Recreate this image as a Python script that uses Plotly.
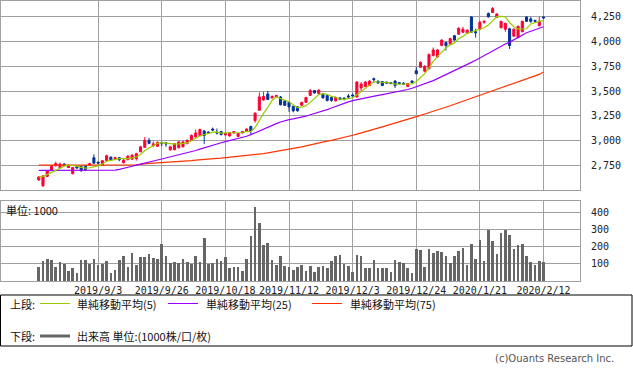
import plotly.graph_objects as go
import pandas as pd

# ---------------- data ----------------
opens = [2600, 2540, 2635, 2695, 2745, 2725, 2760, 2725, 2665, 2735,
         2735, 2740, 2750, 2825, 2780, 2750, 2795, 2830, 2810, 2825,
         2775, 2805, 2810, 2815, 2885, 2930, 3000, 2945, 2940, 2980,
         2975, 2905, 2905, 2925, 2935, 2970, 3000, 3035, 3050, 3095,
         3085, 3115, 3085, 3090, 3055, 3045, 3075, 3040, 3075, 3090,
         3140, 3200, 3305, 3410, 3470, 3430, 3440, 3440, 3400, 3385,
         3345, 3340, 3355, 3385, 3455, 3505, 3475, 3470, 3455, 3435,
         3400, 3430, 3428, 3450, 3460, 3440, 3530, 3545, 3555, 3625,
         3600, 3595, 3590, 3585, 3600, 3585, 3580, 3545, 3600, 3705,
         3740, 3700, 3725, 3860, 3845, 3960, 3990, 3975, 4060, 4075,
         4095, 4085, 4250, 4100, 4125, 4195, 4285, 4295, 4245, 4140,
         4125, 4130, 4055, 4040, 4100, 4250, 4230, 4215, 4160, 4250]
highs = [2640, 2650, 2700, 2750, 2785, 2775, 2770, 2760, 2730, 2745,
         2740, 2750, 2775, 2860, 2785, 2800, 2855, 2840, 2835, 2830,
         2810, 2850, 2860, 2875, 2945, 3035, 3025, 2990, 2990, 2985,
         2980, 2945, 2970, 2990, 2995, 3010, 3060, 3110, 3120, 3105,
         3090, 3130, 3120, 3095, 3080, 3085, 3095, 3075, 3095, 3120,
         3150, 3285, 3485, 3490, 3500, 3455, 3460, 3450, 3410, 3395,
         3350, 3345, 3390, 3440, 3520, 3510, 3515, 3480, 3460, 3440,
         3445, 3440, 3435, 3470, 3475, 3600, 3590, 3600, 3610, 3635,
         3605, 3600, 3595, 3590, 3610, 3590, 3590, 3580, 3610, 3740,
         3800, 3760, 3880, 3940, 3925, 4025, 4000, 4040, 4065, 4145,
         4150, 4125, 4255, 4130, 4210, 4215, 4295, 4350, 4285, 4210,
         4190, 4140, 4135, 4160, 4210, 4255, 4250, 4220, 4250, 4255]
lows = [2590, 2530, 2630, 2690, 2735, 2720, 2740, 2720, 2655, 2715,
        2680, 2690, 2745, 2765, 2760, 2745, 2790, 2800, 2805, 2790,
        2765, 2800, 2805, 2795, 2880, 2925, 2965, 2935, 2935, 2940,
        2935, 2895, 2900, 2920, 2930, 2960, 2995, 3030, 3045, 2965,
        3065, 3095, 3060, 3050, 3050, 3040, 3070, 3035, 3070, 3085,
        3055, 3180, 3300, 3400, 3410, 3425, 3435, 3355, 3350, 3290,
        3285, 3290, 3350, 3380, 3450, 3475, 3470, 3425, 3395, 3390,
        3395, 3405, 3405, 3420, 3445, 3435, 3490, 3540, 3550, 3585,
        3575, 3550, 3570, 3570, 3530, 3565, 3560, 3540, 3580, 3670,
        3735, 3690, 3720, 3850, 3835, 3955, 3910, 3970, 4010, 4070,
        4090, 4080, 4090, 4040, 4120, 4180, 4245, 4290, 4240, 4135,
        4100, 3925, 4050, 4035, 4095, 4200, 4190, 4195, 4155, 4230]
closes = [2630, 2640, 2690, 2740, 2765, 2760, 2745, 2745, 2725, 2720,
          2700, 2705, 2765, 2770, 2770, 2795, 2845, 2805, 2825, 2805,
          2800, 2840, 2850, 2865, 2935, 3000, 2970, 2965, 2980, 2970,
          2965, 2935, 2965, 2985, 2985, 3000, 3050, 3075, 3110, 3050,
          3075, 3105, 3075, 3060, 3070, 3080, 3090, 3070, 3090, 3115,
          3095, 3275, 3440, 3445, 3415, 3445, 3455, 3360, 3355, 3340,
          3300, 3300, 3385, 3435, 3505, 3480, 3510, 3430, 3405, 3405,
          3435, 3415, 3420, 3440, 3450, 3590, 3570, 3590, 3600, 3615,
          3580, 3555, 3580, 3575, 3555, 3575, 3570, 3575, 3585, 3675,
          3790, 3750, 3870, 3915, 3915, 4015, 3960, 4030, 4015, 4135,
          4125, 4115, 4095, 4090, 4195, 4205, 4250, 4335, 4280, 4205,
          4185, 3960, 4125, 4155, 4205, 4205, 4205, 4205, 4205, 4240]

ma25 = [2697, 2697, 2697, 2697, 2697, 2697, 2697, 2697, 2697, 2697,
        2697, 2697, 2697, 2697, 2697, 2697, 2697, 2697, 2700, 2707,
        2715, 2725, 2738, 2750, 2762, 2772, 2782, 2792, 2802, 2812,
        2822, 2832, 2842, 2852, 2862, 2873, 2885, 2898, 2912, 2926,
        2940, 2952, 2964, 2976, 2988, 2998, 3008, 3018, 3030, 3042,
        3058, 3078, 3098, 3117, 3135, 3152, 3170, 3186, 3200, 3210,
        3218, 3225, 3232, 3245, 3260, 3272, 3285, 3298, 3312, 3328,
        3345, 3360, 3375, 3390, 3402, 3412, 3422, 3432, 3440, 3448,
        3456, 3464, 3472, 3480, 3488, 3496, 3505, 3515, 3528, 3542,
        3556, 3570, 3585, 3605, 3625, 3645, 3668, 3686, 3704, 3722,
        3745, 3768, 3790, 3812, 3835, 3860, 3885, 3910, 3935, 3955,
        3975, 3995, 4020, 4045, 4068, 4090, 4105, 4120, 4135, 4150]

ma75 = [2750, 2750, 2750, 2750, 2750, 2750, 2750, 2750, 2750, 2750,
        2750, 2750, 2750, 2750, 2750, 2750, 2750, 2750, 2750, 2750,
        2750, 2750, 2750, 2753, 2758, 2765, 2768, 2770, 2772, 2774,
        2776, 2778, 2780, 2782, 2786, 2790, 2795, 2800, 2805, 2809,
        2812, 2815, 2818, 2820, 2824, 2828, 2832, 2836, 2840, 2845,
        2850, 2855, 2861, 2867, 2873, 2880, 2887, 2894, 2902, 2910,
        2918, 2926, 2935, 2944, 2955, 2965, 2975, 2983, 2992, 3001,
        3010, 3019, 3030, 3040, 3052, 3064, 3075, 3087, 3099, 3112,
        3125, 3137, 3150, 3162, 3175, 3188, 3200, 3213, 3226, 3240,
        3253, 3267, 3280, 3294, 3308, 3322, 3336, 3351, 3366, 3381,
        3397, 3413, 3428, 3444, 3460, 3475, 3490, 3505, 3520, 3535,
        3550, 3565, 3580, 3595, 3610, 3625, 3640, 3655, 3668, 3692]

volume = [84, 114, 131, 125, 80, 108, 100, 61, 73, 49,
          125, 120, 100, 131, 94, 98, 114, 49, 67, 120,
          143, 84, 161, 92, 137, 137, 155, 133, 131, 214,
          143, 102, 108, 102, 131, 108, 98, 143, 108, 249,
          98, 102, 131, 114, 137, 73, 84, 84, 61, 131,
          261, 431, 337, 208, 220, 120, 92, 143, 90, 84,
          67, 84, 96, 61, 90, 55, 80, 90, 75, 114,
          143, 149, 98, 90, 55, 149, 143, 73, 78, 125,
          73, 73, 78, 55, 120, 108, 102, 73, 49, 184,
          178, 84, 184, 161, 173, 167, 143, 102, 143, 173,
          190, 96, 214, 131, 237, 114, 298, 231, 155, 278,
          298, 267, 184, 208, 214, 143, 108, 96, 114, 108]

tick_idx = [14, 29, 44, 59, 74, 89, 104, 119]
tick_labels = ["2019/9/3", "2019/9/26", "2019/10/18", "2019/11/12",
               "2019/12/3", "2019/12/24", "2020/1/21", "2020/2/12"]
price_ticks = [2750, 3000, 3250, 3500, 3750, 4000, 4250]
vol_ticks = [100, 200, 300, 400]

x = list(range(len(closes)))
ma5 = pd.Series(closes).rolling(5, min_periods=1).mean().tolist()

# ---------------- layout helpers ----------------
W, H = 633, 373
ML, MR, MT, MB = 1, 53, 1, 92
PW, PH = W - ML - MR, H - MT - MB


def px(v):
    return (v - ML) / PW


def py(v):
    return (H - MB - v) / PH


GRID = "#a0a0a0"
RED = "#ff0033"
BLUE = "#003399"
C5, C25, C75 = "#99cc00", "#9900ff", "#ff3300"
VOLC = "#666666"
JP = "Noto Sans CJK JP"
NUM = "DejaVu Sans Mono"

fig = go.Figure()
fig.add_trace(go.Candlestick(
    x=x, open=opens, high=highs, low=lows, close=closes,
    increasing=dict(line=dict(color=RED, width=1), fillcolor=RED),
    decreasing=dict(line=dict(color=BLUE, width=1), fillcolor=BLUE),
    whiskerwidth=0, xaxis="x", yaxis="y", showlegend=False, hoverinfo="skip"))
fig.add_trace(go.Scatter(x=x, y=ma75, mode="lines", line=dict(color=C75, width=1.2),
                         xaxis="x", yaxis="y", showlegend=False, hoverinfo="skip"))
fig.add_trace(go.Scatter(x=x, y=ma25, mode="lines", line=dict(color=C25, width=1.2),
                         xaxis="x", yaxis="y", showlegend=False, hoverinfo="skip"))
fig.add_trace(go.Scatter(x=x, y=ma5, mode="lines", line=dict(color=C5, width=1.2),
                         xaxis="x", yaxis="y", showlegend=False, hoverinfo="skip"))
fig.add_trace(go.Bar(x=x, y=volume, marker=dict(color=VOLC, line=dict(width=0)),
                     width=0.62, xaxis="x2", yaxis="y2", showlegend=False, hoverinfo="skip"))

xr = [-8.9, 127.6]
axis_common = dict(showline=True, mirror=True, linecolor=GRID, linewidth=1,
                   showgrid=True, gridcolor=GRID, gridwidth=1, zeroline=False,
                   fixedrange=True)

fig.update_layout(
    width=W, height=H, margin=dict(l=ML, r=MR, t=MT, b=MB),
    paper_bgcolor="white", plot_bgcolor="white",
    hovermode=False, bargap=0, showlegend=False,
    xaxis=dict(domain=[0, 1], range=xr, anchor="y", tickvals=tick_idx,
               showticklabels=False, ticks="", rangeslider=dict(visible=False),
               **axis_common),
    yaxis=dict(domain=[py(190), 1], range=[2498, 4411], side="right", anchor="x",
               tickvals=price_ticks, ticktext=[f"{v:,}" for v in price_ticks],
               ticks="outside", ticklen=8, tickcolor="rgba(0,0,0,0)",
               tickfont=dict(family=NUM, size=10, color="#222"), **axis_common),
    xaxis2=dict(domain=[0, 1], range=xr, anchor="y2", tickvals=tick_idx,
                ticktext=tick_labels, ticks="", matches="x",
                tickfont=dict(family=NUM, size=10, color="#222"), **axis_common),
    yaxis2=dict(domain=[0, py(201)], range=[0, 466], side="right", anchor="x2",
                tickvals=vol_ticks, ticks="outside", ticklen=8,
                tickcolor="rgba(0,0,0,0)",
                tickfont=dict(family=NUM, size=10, color="#222"), **axis_common),
)

shapes = []
annos = []
# legend box
shapes.append(dict(type="rect", xref="paper", yref="paper",
                   x0=px(0.5), x1=px(632), y0=py(295), y1=py(346),
                   line=dict(color="#000", width=1), fillcolor="rgba(0,0,0,0)"))
row1, row2 = 303.5, 336
legend_items = [(40, 70, C5, 75, "単純移動平均(5)"),
                (168, 198, C25, 204, "単純移動平均(25)"),
                (312, 342, C75, 348, "単純移動平均(75)")]
annos.append(dict(text="上段:", x=px(8), y=py(row1)))
for x0, x1, col, tx, label in legend_items:
    shapes.append(dict(type="line", xref="paper", yref="paper",
                       x0=px(x0), x1=px(x1), y0=py(row1), y1=py(row1),
                       line=dict(color=col, width=1)))
    annos.append(dict(text=label, x=px(tx), y=py(row1)))
annos.append(dict(text="下段:", x=px(8), y=py(row2)))
shapes.append(dict(type="line", xref="paper", yref="paper",
                   x0=px(40), x1=px(70), y0=py(row2), y1=py(row2),
                   line=dict(color=VOLC, width=3)))
annos.append(dict(text="出来高 単位:(1000株/口/枚)", x=px(75), y=py(row2)))
annos.append(dict(text="単位: 1000", x=px(4), y=py(210)))

for a in annos:
    a.update(xref="paper", yref="paper", xanchor="left", yanchor="middle",
             showarrow=False, font=dict(family=JP, size=11, color="#111"))
annos.append(dict(text="(c)Ouants Research Inc.", xref="paper", yref="paper",
                  x=px(616), y=py(358), xanchor="right", yanchor="middle",
                  showarrow=False, font=dict(family="DejaVu Sans", size=10, color="#555")))

fig.update_layout(shapes=shapes, annotations=annos)
fig.write_html("out.html",
               config={"displayModeBar": False, "staticPlot": True},
               post_script="document.body.style.margin='0';document.body.style.overflow='hidden';")
